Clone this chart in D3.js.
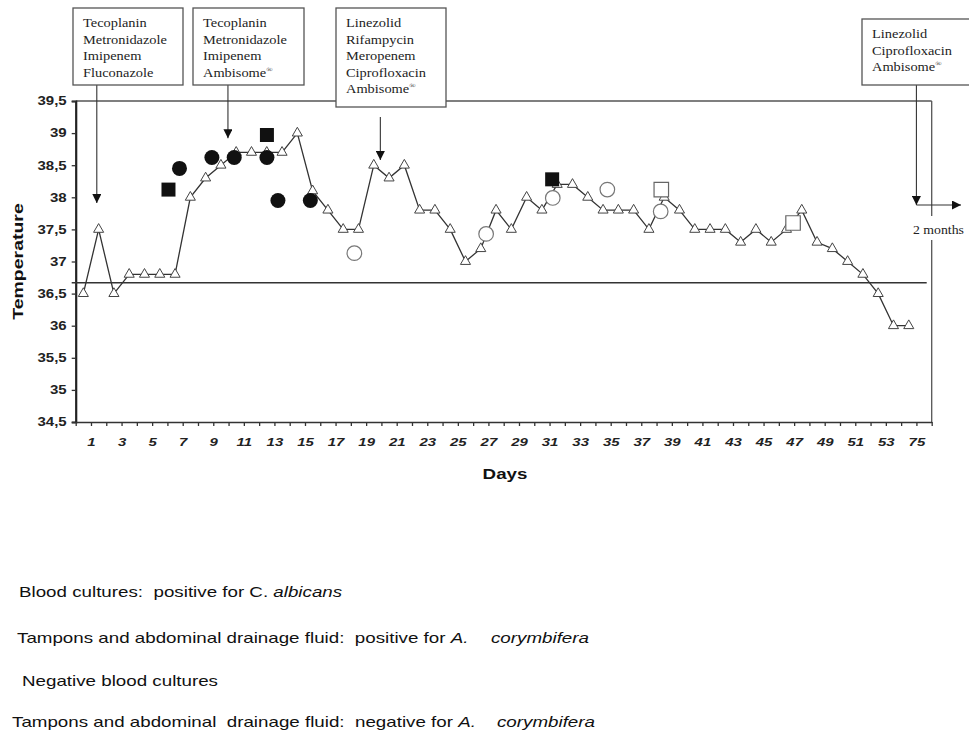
<!DOCTYPE html>
<html>
<head>
<meta charset="utf-8">
<script src="https://cdn.jsdelivr.net/npm/d3@7"></script>
<style>
  body { margin: 0; background: #fff; }
  svg { display: block; }
</style>
</head>
<body>
<script>
// daily temperature, one value per category (day 1 .. 55)
const tempValues = [36.5, 37.5, 36.5, 36.8, 36.8, 36.8, 36.8, 38.0, 38.3, 38.5,
  38.7, 38.7, 38.7, 38.7, 39.0, 38.1, 37.8, 37.5, 37.5, 38.5,
  38.3, 38.5, 37.8, 37.8, 37.5, 37.0, 37.2, 37.8, 37.5, 38.0,
  37.8, 38.2, 38.2, 38.0, 37.8, 37.8, 37.8, 37.5, 38.0, 37.8,
  37.5, 37.5, 37.5, 37.3, 37.5, 37.3, 37.5, 37.8, 37.3, 37.2,
  37.0, 36.8, 36.5, 36.0, 36.0];
const xTickLabels = ['1', '3', '5', '7', '9', '11', '13', '15', '17', '19', '21', '23', '25', '27',
  '29', '31', '33', '35', '37', '39', '41', '43', '45', '47', '49', '51', '53', '75'];
const yTicks = [34.5, 35, 35.5, 36, 36.5, 37, 37.5, 38, 38.5, 39, 39.5];
const feverLine = 36.67;

// culture results: [day position, temperature]
const bloodPositive = [[7.29, 38.45], [9.41, 38.62], [10.87, 38.62], [13.01, 38.62], [13.73, 37.95], [15.85, 37.95]];
const tamponPositive = [[6.57, 38.12], [13.01, 38.97], [31.67, 38.28]];
const bloodNegative = [[18.73, 37.13], [27.35, 37.43], [31.71, 37.99], [35.28, 38.12], [38.77, 37.78]];
const tamponNegative = [[38.81, 38.12], [47.43, 37.6]];

// treatment changes: drugs, day of the arrow, temperature at the arrow tip
const treatDrugs = [
  ['Tecoplanin', 'Metronidazole', 'Imipenem', 'Fluconazole'],
  ['Tecoplanin', 'Metronidazole', 'Imipenem', 'Ambisome®'],
  ['Linezolid', 'Rifampycin', 'Meropenem', 'Ciprofloxacin', 'Ambisome®'],
  ['Linezolid', 'Ciprofloxacin', 'Ambisome®']
];
const treatDays = [1.88, 10.46, 20.43, 55.5];
const treatTips = [37.91, 38.92, 38.58, 37.88];

const legendPlain = ['Blood cultures:  positive for C. ', 'Tampons and abdominal drainage fluid:  positive for ',
  'Negative blood cultures', 'Tampons and abdominal  drainage fluid:  negative for '];
const legendItalic = ['albicans', 'A.', '', 'A.'];
const legendSpecies = ['', 'corymbifera', '', 'corymbifera'];

const [W, H] = [969, 735];
const sans = 'Arial, "Liberation Sans", sans-serif';
const serif = '"Times New Roman", "Liberation Serif", serif';

const svg = d3.select('body').append('svg').attr('width', W).attr('height', H);

svg.append('defs').append('marker')
  .attr('id', 'head')
  .attr('viewBox', '0 0 10 10')
  .attr('refX', 10).attr('refY', 5)
  .attr('markerWidth', 9).attr('markerHeight', 9)
  .attr('markerUnits', 'userSpaceOnUse')
  .attr('orient', 'auto')
  .append('path').attr('d', 'M0,0L10,5L0,10Z').attr('fill', '#111');

const x = d3.scaleLinear().domain([0, 56]).range([75.7, 931.7]);
const y = d3.scaleLinear().domain([34.5, 39.5]).range([422, 101]);
const dayX = d => x(d - 0.5);

// plot frame (top and right)
const frame = svg.append('g').attr('stroke', '#555').attr('stroke-width', 1.3).attr('fill', 'none');
frame.append('line').attr('x1', x(0)).attr('x2', x(56)).attr('y1', y(39.5)).attr('y2', y(39.5));
frame.append('line').attr('x1', x(56)).attr('x2', x(56)).attr('y1', y(39.5)).attr('y2', y(34.5));

// axes
const yAxis = svg.append('g')
  .attr('transform', `translate(${x(0)},0)`)
  .call(d3.axisLeft(y).tickValues(yTicks).tickSize(4).tickPadding(5)
    .tickFormat(d => String(d).replace('.', ',')));
yAxis.select('.domain').attr('stroke', '#222').attr('stroke-width', 2.2);
yAxis.selectAll('.tick line').attr('stroke', '#333').attr('stroke-width', 1.3);
yAxis.selectAll('text')
  .attr('x', -9 / 1.25).attr('transform', 'scale(1.25,1)')
  .attr('font-family', sans).attr('font-size', 12).attr('font-weight', 'bold').attr('fill', '#222');

const xAxis = svg.append('g')
  .attr('transform', `translate(0,${y(34.5)})`)
  .call(d3.axisBottom(x).tickValues(d3.range(0, 57)).tickSize(4).tickSizeOuter(0).tickFormat(''));
xAxis.select('.domain').attr('stroke', '#333').attr('stroke-width', 1.6);
xAxis.selectAll('.tick line').attr('stroke', '#333').attr('stroke-width', 1.3);

const xLab = svg.append('g')
  .attr('transform', `translate(0,${y(34.5)})`)
  .call(d3.axisBottom(x).tickValues(d3.range(1, 56, 2)).tickSize(0).tickPadding(16)
    .tickFormat((d, i) => xTickLabels[i]));
xLab.select('.domain').remove();
xLab.selectAll('text')
  .attr('transform', 'scale(1.3,1)')
  .attr('font-family', sans).attr('font-size', 11.5).attr('font-weight', 'bold')
  .attr('font-style', 'italic').attr('fill', '#222');

// axis titles
svg.append('text')
  .attr('transform', `translate(23,${(y(39.5) + y(34.5)) / 2}) rotate(-90) scale(1.3,1)`)
  .attr('text-anchor', 'middle')
  .attr('font-family', sans).attr('font-size', 15).attr('font-weight', 'bold').attr('fill', '#111')
  .text('Temperature');
svg.append('text')
  .attr('transform', `translate(505,479) scale(1.25,1)`)
  .attr('text-anchor', 'middle')
  .attr('font-family', sans).attr('font-size', 15).attr('font-weight', 'bold').attr('fill', '#111')
  .text('Days');

// fever threshold
svg.append('line')
  .attr('x1', x(0) - 4).attr('x2', x(56) - 5)
  .attr('y1', y(feverLine)).attr('y2', y(feverLine))
  .attr('stroke', '#333').attr('stroke-width', 1.6);

// temperature curve
svg.append('path')
  .datum(tempValues)
  .attr('d', d3.line().x((d, i) => dayX(i + 1)).y(d => y(d)))
  .attr('fill', 'none').attr('stroke', '#333').attr('stroke-width', 1.3);

svg.append('g').selectAll('path')
  .data(tempValues)
  .enter()
  .append('path')
  .attr('transform', (d, i) => `translate(${dayX(i + 1)},${y(d)})`)
  .attr('d', d3.symbol(d3.symbolTriangle, 44))
  .attr('fill', '#fff').attr('stroke', '#444').attr('stroke-width', 1);

// culture markers
const markers = svg.append('g');
markers.selectAll('.bpos').data(bloodPositive).enter().append('circle')
  .attr('cx', d => dayX(d[0])).attr('cy', d => y(d[1])).attr('r', 7.5)
  .attr('fill', '#111');
markers.selectAll('.tpos').data(tamponPositive).enter().append('path')
  .attr('transform', d => `translate(${dayX(d[0])},${y(d[1])})`)
  .attr('d', d3.symbol(d3.symbolSquare, 196))
  .attr('fill', '#111');
markers.selectAll('.bneg').data(bloodNegative).enter().append('circle')
  .attr('cx', d => dayX(d[0])).attr('cy', d => y(d[1])).attr('r', 7.3)
  .attr('fill', '#fff').attr('stroke', '#777').attr('stroke-width', 1.2);
markers.selectAll('.tneg').data(tamponNegative).enter().append('path')
  .attr('transform', d => `translate(${dayX(d[0])},${y(d[1])})`)
  .attr('d', d3.symbol(d3.symbolSquare, 210))
  .attr('fill', '#fff').attr('stroke', '#666').attr('stroke-width', 1.2);

// treatment boxes and arrows
const boxes = [
  { x: 73, y: 8, w: 110, h: 77 },
  { x: 193, y: 8, w: 111, h: 77 },
  { x: 336, y: 8, w: 110, h: 99 },
  { x: 862, y: 19, w: 112, h: 66 }
];
const arrowStart = [85, 85, 117, 85];

treatDrugs.forEach((drugs, k) => {
  const b = boxes[k];
  const ax = dayX(treatDays[k]);
  svg.append('line')
    .attr('x1', ax).attr('x2', ax)
    .attr('y1', arrowStart[k]).attr('y2', y(treatTips[k]))
    .attr('stroke', '#333').attr('stroke-width', 1.1)
    .attr('marker-end', 'url(#head)');
  svg.append('rect')
    .attr('x', b.x).attr('y', b.y).attr('width', b.w).attr('height', b.h)
    .attr('fill', '#fff').attr('stroke', '#555').attr('stroke-width', 1.3);
  drugs.forEach((name, j) => {
    const t = svg.append('text')
      .attr('transform', `translate(${b.x + 10},${b.y + 19 + j * 16.5}) scale(1.2,1)`)
      .attr('font-family', serif).attr('font-size', 12).attr('fill', '#222');
    if (name.endsWith('®')) {
      t.append('tspan').text(name.slice(0, -1));
      t.append('tspan').attr('font-size', 7).attr('dy', -5).text('®');
    } else {
      t.text(name);
    }
  });
});

// the last course continues beyond day 75
const lastX = dayX(treatDays[3]);
svg.append('line')
  .attr('x1', lastX).attr('x2', 961)
  .attr('y1', y(treatTips[3])).attr('y2', y(treatTips[3]))
  .attr('stroke', '#333').attr('stroke-width', 1.1)
  .attr('marker-end', 'url(#head)');
svg.append('rect').attr('x', 912).attr('y', 216).attr('width', 57).attr('height', 24).attr('fill', '#fff');
svg.append('text')
  .attr('transform', 'translate(913,234) scale(1.15,1)')
  .attr('font-family', serif).attr('font-size', 12).attr('fill', '#222')
  .text('2 months');

// legend texts (symbols are not printed in the source)
const LS = 1.34;
const legendX = [19, 17, 22, 12];
const legendY = [597, 643, 686, 727];
const speciesX = [0, 491, 0, 497];
legendPlain.forEach((txt, k) => {
  const t = svg.append('text')
    .attr('transform', `translate(${legendX[k]},${legendY[k]}) scale(${LS},1)`)
    .attr('font-family', sans).attr('font-size', 14).attr('fill', '#111')
    .style('white-space', 'pre');
  t.append('tspan').text(txt);
  if (legendItalic[k]) t.append('tspan').attr('font-style', 'italic').text(legendItalic[k]);
  if (legendSpecies[k]) {
    t.append('tspan').attr('font-style', 'italic')
      .attr('x', (speciesX[k] - legendX[k]) / LS)
      .text(legendSpecies[k]);
  }
});
</script>
</body>
</html>
